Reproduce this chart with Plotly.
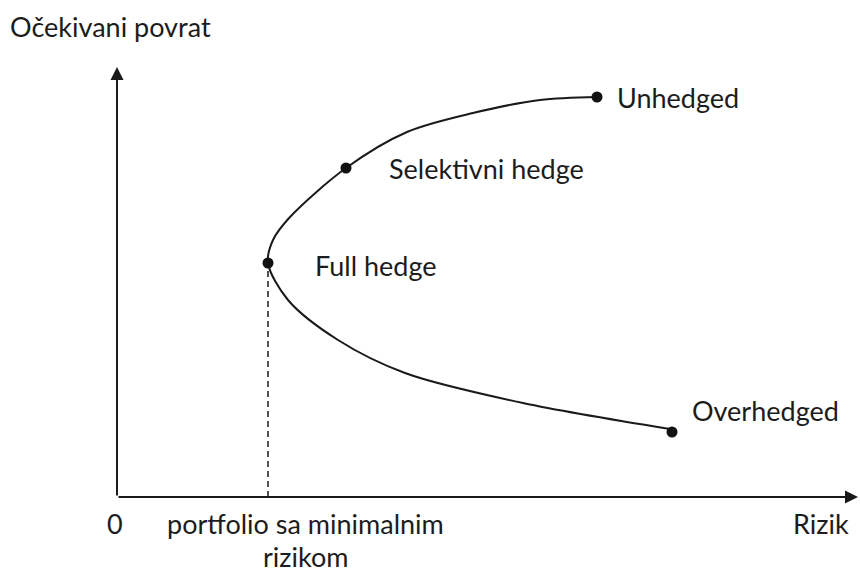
import plotly.graph_objects as go

# Data (risk on x, expected return on y; arbitrary units)
point_names = ["Unhedged", "Selektivni hedge", "Full hedge", "Overhedged"]
point_risk = [480, 229, 151, 555]
point_return = [400, 329, 234, 65]

curve_risk = [480, 423, 356, 290, 229, 173, 156, 151, 171, 221, 288, 406, 553]
curve_return = [400, 397, 384, 365, 329, 280, 257, 234, 197, 157, 124, 94, 68]

y_title = "Očekivani povrat"
x_title = "Rizik"
origin_label = "0"
min_risk_line1 = "portfolio sa minimalnim"
min_risk_line2 = "rizikom"

FONT = "Lato, Open Sans, sans-serif"
TXT = "#1c1c1c"
FS = 27

X_MAX, Y_MAX = 743, 422  # axis ranges (data units)

fig = go.Figure()

fig.add_trace(go.Scatter(
    x=curve_risk, y=curve_return, mode="lines",
    line=dict(color="#1a1a1a", width=2, shape="spline", smoothing=0.9),
    hoverinfo="skip", showlegend=False))

fh = point_names.index("Full hedge")
fig.add_trace(go.Scatter(
    x=[point_risk[fh], point_risk[fh]], y=[0, point_return[fh]], mode="lines",
    line=dict(color="#1a1a1a", width=1.5, dash="6px,4px"),
    hoverinfo="skip", showlegend=False))

fig.add_trace(go.Scatter(
    x=point_risk, y=point_return, mode="markers",
    marker=dict(color="#111111", size=11),
    hoverinfo="skip", showlegend=False))

annotations = []
offsets = {"Unhedged": (18, 0), "Selektivni hedge": (41, 0),
           "Full hedge": (45, -2), "Overhedged": (18, 22)}
for n, xr, yr in zip(point_names, point_risk, point_return):
    dx, dy = offsets[n]
    annotations.append(dict(x=xr + dx, y=yr + dy, text=n, showarrow=False,
                            xanchor="left", yanchor="middle",
                            font=dict(family=FONT, size=FS, color=TXT)))

# axis arrows
annotations.append(dict(x=741, y=0, ax=0, ay=0, xref="x", yref="y", axref="x", ayref="y",
                        showarrow=True, arrowhead=2, arrowsize=1.3, arrowwidth=2,
                        arrowcolor="#1a1a1a", text=""))
annotations.append(dict(x=0, y=430, ax=0, ay=0, xref="x", yref="y", axref="x", ayref="y",
                        showarrow=True, arrowhead=2, arrowsize=1.3, arrowwidth=2,
                        arrowcolor="#1a1a1a", text=""))


def paper(dx, dy):
    return dx / X_MAX, dy / Y_MAX


def label(text, dx, dy, anchor="center", yanchor="middle", size=FS):
    px, py = paper(dx, dy)
    annotations.append(dict(x=px, y=py, xref="paper", yref="paper", text=text,
                            showarrow=False, xanchor=anchor, yanchor=yanchor,
                            font=dict(family=FONT, size=size, color=TXT)))


label(origin_label, -2, -26)
label(min_risk_line1, point_risk[fh] + 37, -26)
label(min_risk_line2, point_risk[fh] + 37, -78, yanchor="bottom")
label(x_title, 704, -26)
label(y_title, -109, 470, anchor="left", size=FS)

fig.update_layout(
    width=860, height=576,
    margin=dict(l=117, r=0, t=75, b=79),
    paper_bgcolor="white", plot_bgcolor="white",
    xaxis=dict(range=[0, X_MAX], visible=False, fixedrange=True),
    yaxis=dict(range=[0, Y_MAX], visible=False, fixedrange=True),
    annotations=annotations,
    showlegend=False,
)

fig.write_html("out.html", config={"displayModeBar": False},
               post_script="document.body.style.margin='0';")
